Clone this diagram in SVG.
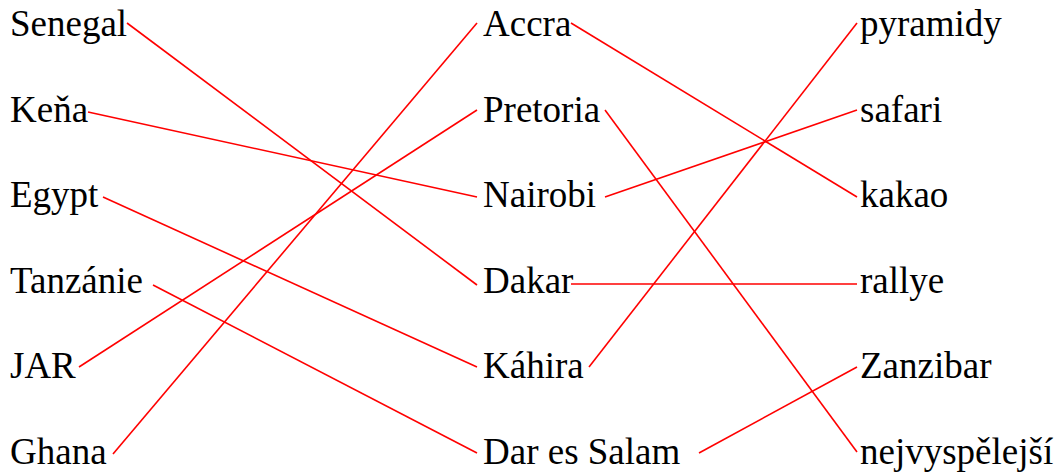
<svg xmlns="http://www.w3.org/2000/svg" width="1058" height="472" viewBox="0 0 1058 472">
<style>
text{font-family:"Liberation Serif","Times New Roman",serif;font-size:37px;fill:#000}
.c line{stroke:#ff0000;stroke-width:1.6;fill:none}
</style>
<rect width="1058" height="472" fill="#fff"/>
<g class="c" id="connectors">
<line x1="127" y1="23" x2="477" y2="285"/>
<line x1="88" y1="112" x2="477" y2="197"/>
<line x1="103" y1="197" x2="477" y2="367"/>
<line x1="153" y1="285" x2="477" y2="453"/>
<line x1="79" y1="367" x2="477" y2="110"/>
<line x1="113" y1="454" x2="477" y2="23"/>
<line x1="571" y1="23" x2="857" y2="197"/>
<line x1="605" y1="110" x2="857" y2="452"/>
<line x1="605" y1="197" x2="857" y2="110"/>
<line x1="571" y1="284" x2="857" y2="284"/>
<line x1="589" y1="367" x2="857" y2="23"/>
<line x1="699" y1="453" x2="857" y2="367"/>
</g>
<g id="n-senegal"><text x="10" y="36">Senegal</text></g>
<g id="n-kena"><text x="10" y="121.5">Keňa</text></g>
<g id="n-egypt"><text x="10" y="207">Egypt</text></g>
<g id="n-tanzanie"><text x="10" y="292.5">Tanzánie</text></g>
<g id="n-jar"><text x="10" y="378">JAR</text></g>
<g id="n-ghana"><text x="10" y="463.5">Ghana</text></g>
<g id="n-accra"><text x="483" y="36">Accra</text></g>
<g id="n-pretoria"><text x="483" y="121.5">Pretoria</text></g>
<g id="n-nairobi"><text x="483" y="207">Nairobi</text></g>
<g id="n-dakar"><text x="483" y="292.5">Dakar</text></g>
<g id="n-kahira"><text x="483" y="378">Káhira</text></g>
<g id="n-dares"><text x="483" y="463.5">Dar es Salam</text></g>
<g id="n-pyramidy"><text x="860" y="36">pyramidy</text></g>
<g id="n-safari"><text x="860" y="121.5">safari</text></g>
<g id="n-kakao"><text x="860" y="207">kakao</text></g>
<g id="n-rallye"><text x="860" y="292.5">rallye</text></g>
<g id="n-zanzibar"><text x="860" y="378">Zanzibar</text></g>
<g id="n-nejv"><text x="860" y="463.5">nejvyspělejší</text></g>
</svg>
